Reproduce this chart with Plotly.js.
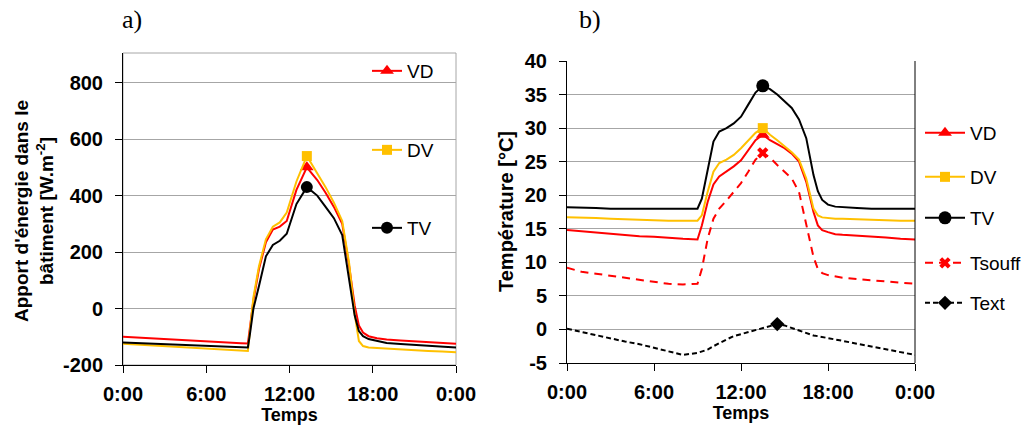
<!DOCTYPE html>
<html><head><meta charset="utf-8">
<script src="https://cdn.plot.ly/plotly-3.0.1.min.js"></script>
<style>html,body{margin:0;padding:0;background:#fff}#chart{width:1032px;height:432px}</style>
</head><body><div id="chart"></div>
<script>
// ---- shared time axis labels ----
const timeTickVals = [0, 6, 12, 18, 24];
const timeTickText = ['0:00', '6:00', '12:00', '18:00', '0:00'];

// ---- chart a) : energy gain [W.m-2] ----
const energyTickVals = [-200, 0, 200, 400, 600, 800];
const energyTickText = ['-200', '0', '200', '400', '600', '800'];
const hoursA = [0,1,2,3,4,5,6,7,8,8.5,9.0,9.15,9.4,9.8,10.3,10.8,11.3,11.8,12.5,13.25,14,14.6,15.2,15.8,16.3,16.7,17.0,17.3,17.7,18.3,19,20,21,22,23,24];
const apportVD = [-100,-103,-106,-109,-112,-115,-118,-120,-122,-123,-124,-70,30,140,235,280,290,310,420,500,455,410,360,300,150,10,-60,-85,-98,-105,-110,-113,-116,-119,-122,-125];
const apportDV = [-125,-128,-131,-134,-137,-140,-143,-146,-149,-151,-150,-80,40,150,245,290,305,340,450,540,480,430,375,310,160,-20,-115,-133,-138,-140,-142,-145,-147,-150,-152,-155];
const apportTV = [-120,-122,-124,-126,-128,-130,-132,-134,-137,-139,-138,-90,0,80,185,225,240,265,370,430,400,360,320,260,110,-25,-80,-98,-108,-115,-122,-126,-129,-132,-135,-138];

// ---- chart b) : temperatures [°C] ----
const tempTickVals = [-5, 0, 5, 10, 15, 20, 25, 30, 35, 40];
const tempTickText = ['-5', '0', '5', '10', '15', '20', '25', '30', '35', '40'];
const hoursB = [0,1,2,3,4,5,6,7,8,9.0,9.3,9.7,10.1,10.5,11,11.5,12,12.5,13,13.5,14,14.5,15,15.5,16,16.5,17,17.3,17.6,18,18.5,19,20,21,22,23,24];
const tempVD = [14.8,14.6,14.4,14.2,14.1,13.9,13.8,13.6,13.5,13.4,15.5,19.0,21.6,22.8,23.5,24.3,25.2,26.8,28.2,29.0,28.2,27.6,27.0,26.2,25.0,22.0,17.5,15.5,14.8,14.5,14.2,14.1,14.0,13.8,13.7,13.5,13.4];
const tempDV = [16.7,16.7,16.6,16.5,16.4,16.3,16.3,16.2,16.2,16.2,17.0,20.5,23.5,24.8,25.3,26.0,27.0,28.2,29.3,30.0,29.0,28.2,27.3,26.4,25.3,22.5,18.0,17.0,16.7,16.6,16.5,16.5,16.4,16.3,16.3,16.2,16.2];
const tempTV = [18.2,18.2,18.1,18.0,18.0,18.0,18.0,18.0,18.0,18.0,19.5,24.0,28.0,29.5,30.0,30.7,31.7,33.5,35.3,36.3,35.8,35.0,34.0,33.0,31.3,28.5,23.0,20.6,19.3,18.6,18.3,18.2,18.1,18.0,18.0,18.0,18.0];
const tempTsouff = [9.2,8.6,8.3,8.0,7.7,7.4,7.1,6.8,6.7,6.8,9.0,13.5,16.5,18.0,19.2,20.5,21.8,23.5,25.3,26.3,25.6,24.5,23.5,22.5,20.5,15.5,10.8,9.0,8.4,8.1,7.9,7.7,7.5,7.3,7.1,6.9,6.8];
const tempText = [0.1,-0.4,-0.9,-1.4,-1.8,-2.2,-2.7,-3.2,-3.8,-3.5,-3.3,-3.0,-2.5,-2.0,-1.5,-1.0,-0.7,-0.3,0.0,0.3,0.5,0.8,0.6,0.2,-0.2,-0.6,-0.9,-1.0,-1.1,-1.3,-1.5,-1.7,-2.1,-2.5,-2.9,-3.3,-3.8];

const FONT = 'Liberation Sans, Arial, sans-serif';
const RED = '#ff0000', YEL = '#ffc000', BLK = '#000000';

function argmax(a){ let k = 0; for (let i = 1; i < a.length; i++) if (a[i] > a[k]) k = i; return k; }

// each series: full line (no legend) + one marker at its peak (carries the legend entry)
function series(name, xs, ys, xa, ya, color, dash, symbol, msize, legendId) {
  const k = argmax(ys);
  const line = {color: color, width: 2, dash: dash};
  return [
    {type: 'scatter', mode: 'lines', x: xs, y: ys, xaxis: xa, yaxis: ya, line: line,
     legendgroup: name + xa, showlegend: false, hoverinfo: 'skip'},
    {type: 'scatter', mode: 'lines+markers', name: name, x: [xs[k]], y: [ys[k]], xaxis: xa, yaxis: ya,
     line: line, marker: {color: color, symbol: symbol, size: msize, line: {width: 0}},
     legendgroup: name + xa, showlegend: true, legend: legendId}
  ];
}

const data = [].concat(
  series('VD', hoursA, apportVD, 'x', 'y', RED, 'solid', 'triangle-up', 12, 'legend'),
  series('DV', hoursA, apportDV, 'x', 'y', YEL, 'solid', 'square', 10, 'legend2'),
  series('TV', hoursA, apportTV, 'x', 'y', BLK, 'solid', 'circle', 12, 'legend3'),
  series('VD', hoursB, tempVD, 'x2', 'y2', RED, 'solid', 'triangle-up', 12, 'legend4'),
  series('DV', hoursB, tempDV, 'x2', 'y2', YEL, 'solid', 'square', 10, 'legend5'),
  series('TV', hoursB, tempTV, 'x2', 'y2', BLK, 'solid', 'circle', 13, 'legend6'),
  series('Tsouff', hoursB, tempTsouff, 'x2', 'y2', RED, '8px,6px', 'x', 10, 'legend7'),
  series('Text', hoursB, tempText, 'x2', 'y2', BLK, '5px,3px', 'diamond', 11, 'legend8')
);

const W = 1032, H = 432;
const tickFont = {family: FONT, size: 20, color: '#000', weight: 'bold'};
function xAxis(domain, anchor) {
  return {domain: domain, anchor: anchor, range: [0, 24], tickvals: timeTickVals, ticktext: timeTickText,
    ticks: 'outside', ticklen: 7, tickcolor: '#000', showline: true, linecolor: '#000', linewidth: 1,
    showgrid: false, zeroline: false, tickfont: tickFont, ticklabelstandoff: 4, automargin: false,
    title: {text: 'Temps', font: {family: FONT, size: 18, color: '#000', weight: 'bold'}, standoff: 4}};
}
function yAxis(domain, anchor, range, tv, tt) {
  return {domain: domain, anchor: anchor, range: range, tickvals: tv, ticktext: tt,
    ticks: 'outside', ticklen: 7, tickcolor: '#000', showline: true, linecolor: '#000', linewidth: 1,
    showgrid: true, gridcolor: '#a6a6a6', gridwidth: 1, zeroline: false, tickfont: tickFont,
    ticklabelstandoff: 8, automargin: false};
}
function legendAt(px, py, iw) {
  return {x: px / W, y: 1 - py / H, xanchor: 'left', yanchor: 'middle', bgcolor: 'rgba(0,0,0,0)',
    borderwidth: 0, font: {family: FONT, size: 19, color: '#000'}, itemwidth: iw, itemsizing: 'trace'};
}

const layout = {
  width: W, height: H,
  margin: {l: 0, r: 0, t: 0, b: 0},
  paper_bgcolor: '#fff', plot_bgcolor: '#fff',
  showlegend: true,
  xaxis: xAxis([123 / W, 456 / W], 'y'),
  yaxis: yAxis([1 - 365 / H, 1 - 53 / H], 'x', [-200, 905], energyTickVals, energyTickText),
  xaxis2: xAxis([567 / W, 915 / W], 'y2'),
  yaxis2: yAxis([1 - 363 / H, 1 - 61 / H], 'x2', [-5, 40], tempTickVals, tempTickText),
  legend: legendAt(367, 71, 30),
  legend2: legendAt(367, 150, 30),
  legend3: legendAt(367, 228, 30),
  legend4: legendAt(920, 133, 40),
  legend5: legendAt(920, 177, 40),
  legend6: legendAt(920, 218, 40),
  legend7: legendAt(920, 263, 40),
  legend8: legendAt(920, 303, 40),
  shapes: [
    {type: 'rect', xref: 'x domain', yref: 'y domain', x0: 0, x1: 1, y0: 0, y1: 1,
     line: {color: '#a6a6a6', width: 1}, layer: 'below'},
    {type: 'line', xref: 'x2 domain', yref: 'y2 domain', x0: 1, x1: 1, y0: 0, y1: 1,
     line: {color: '#000', width: 1}}
  ],
  annotations: [
    {text: 'a)', xref: 'paper', yref: 'paper', x: 132 / W, y: 1 - 20 / H, xanchor: 'center', yanchor: 'middle',
     showarrow: false, font: {family: 'Liberation Serif, Times New Roman, serif', size: 26, color: '#000'}},
    {text: 'b)', xref: 'paper', yref: 'paper', x: 590 / W, y: 1 - 20 / H, xanchor: 'center', yanchor: 'middle',
     showarrow: false, font: {family: 'Liberation Serif, Times New Roman, serif', size: 26, color: '#000'}},
    {text: "Apport d'énergie dans le<br>bâtiment [W.m<sup>-2</sup>]", xref: 'paper', yref: 'paper',
     x: 34 / W, y: 1 - 211 / H, xanchor: 'center', yanchor: 'middle', textangle: -90, showarrow: false,
     font: {family: FONT, size: 19, color: '#000', weight: 'bold'}},
    {text: 'Température [°C]', xref: 'paper', yref: 'paper',
     x: 506 / W, y: 1 - 212 / H, xanchor: 'center', yanchor: 'middle', textangle: -90, showarrow: false,
     font: {family: FONT, size: 20, color: '#000', weight: 'bold'}}
  ]
};

Plotly.newPlot('chart', data, layout, {staticPlot: true, displayModeBar: false});
</script>
</body></html>
